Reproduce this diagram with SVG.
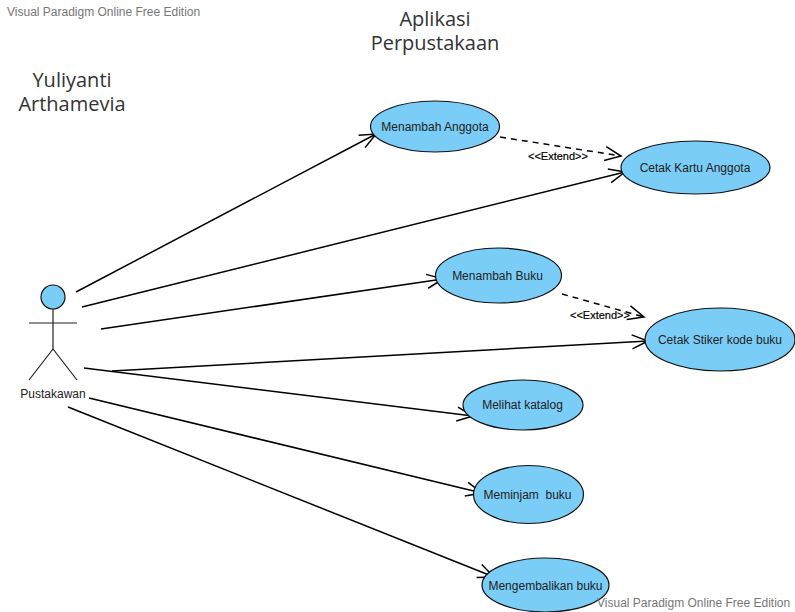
<svg xmlns="http://www.w3.org/2000/svg" width="795" height="612" viewBox="0 0 795 612">
<defs>
<marker id="open" markerUnits="userSpaceOnUse" markerWidth="24" markerHeight="20" refX="17" refY="10" orient="auto"><path d="M1 3L17 10L1 17" fill="none" stroke="#000" stroke-width="1.5"/></marker>
</defs>
<style>
text{font-family:"Liberation Sans",Arial,sans-serif;font-size:12px;fill:#222;text-anchor:middle}
.n{fill:#7acdf6;stroke:#111;stroke-width:1.2}
.c{fill:none;stroke:#000;stroke-width:1.5;marker-end:url(#open)}
.d{stroke-dasharray:6 5}
.t{font-family:"Open Sans",sans-serif;font-size:20px;fill:#333}
.w{fill:#777;text-anchor:start}
.e{font-size:11px;fill:#000;stroke:#000;stroke-width:.2}
.a{fill:none;stroke:#222;stroke-width:1.2}
</style>
<rect width="795" height="612" fill="#fff"/>
<text class="w" x="7" y="16">Visual Paradigm Online Free Edition</text>
<text class="t"><tspan x="435" y="26">Aplikasi</tspan><tspan x="435" y="50">Perpustakaan</tspan></text>
<text class="t"><tspan x="72" y="87">Yuliyanti</tspan><tspan x="72" y="111">Arthamevia</tspan></text>
<g id="connectors">
<path class="c" d="M76 292L376 134"/>
<path class="c" d="M82 307L625 172"/>
<path class="c" d="M101 329L443 279"/>
<path class="c" d="M112 371L648 341"/>
<path class="c" d="M84 368L473 416"/>
<path class="c" d="M89 398L482 493"/>
<path class="c" d="M68 407L494 577"/>
<path class="c d" d="M500 137L621 156"/>
<path class="c d" d="M562 294L644 317"/>
</g>
<text class="e" x="558" y="160">&lt;&lt;Extend&gt;&gt;</text>
<text class="e" x="600" y="319">&lt;&lt;Extend&gt;&gt;</text>
<g id="actor">
<circle class="n" cx="53" cy="297" r="12"/>
<path class="a" d="M53 309V349M29 323H77M53 349L29 380M53 349L77 380"/>
<text x="53" y="398">Pustakawan</text>
</g>
<g id="uc1"><ellipse class="n" cx="435" cy="126.500" rx="64.500" ry="25.500"/><text x="435" y="131">Menambah Anggota</text></g>
<g id="uc2"><ellipse class="n" cx="695.500" cy="167.500" rx="74.500" ry="26.500"/><text x="695" y="172">Cetak Kartu Anggota</text></g>
<g id="uc3"><ellipse class="n" cx="498.500" cy="275.500" rx="63" ry="27.500"/><text x="497.500" y="280">Menambah Buku</text></g>
<g id="uc4"><ellipse class="n" cx="720" cy="339.500" rx="75" ry="31.500"/><text x="720" y="344">Cetak Stiker kode buku</text></g>
<g id="uc5"><ellipse class="n" cx="523" cy="405" rx="60" ry="25"/><text x="522.500" y="409">Melihat katalog</text></g>
<g id="uc6"><ellipse class="n" cx="528.500" cy="494.500" rx="55" ry="29"/><text x="527.500" y="499" xml:space="preserve">Meminjam  buku</text></g>
<g id="uc7"><ellipse class="n" cx="545.500" cy="585" rx="63.500" ry="27"/><text x="545.500" y="590">Mengembalikan buku</text></g>
<text class="w" x="597" y="607">Visual Paradigm Online Free Edition</text>
</svg>
